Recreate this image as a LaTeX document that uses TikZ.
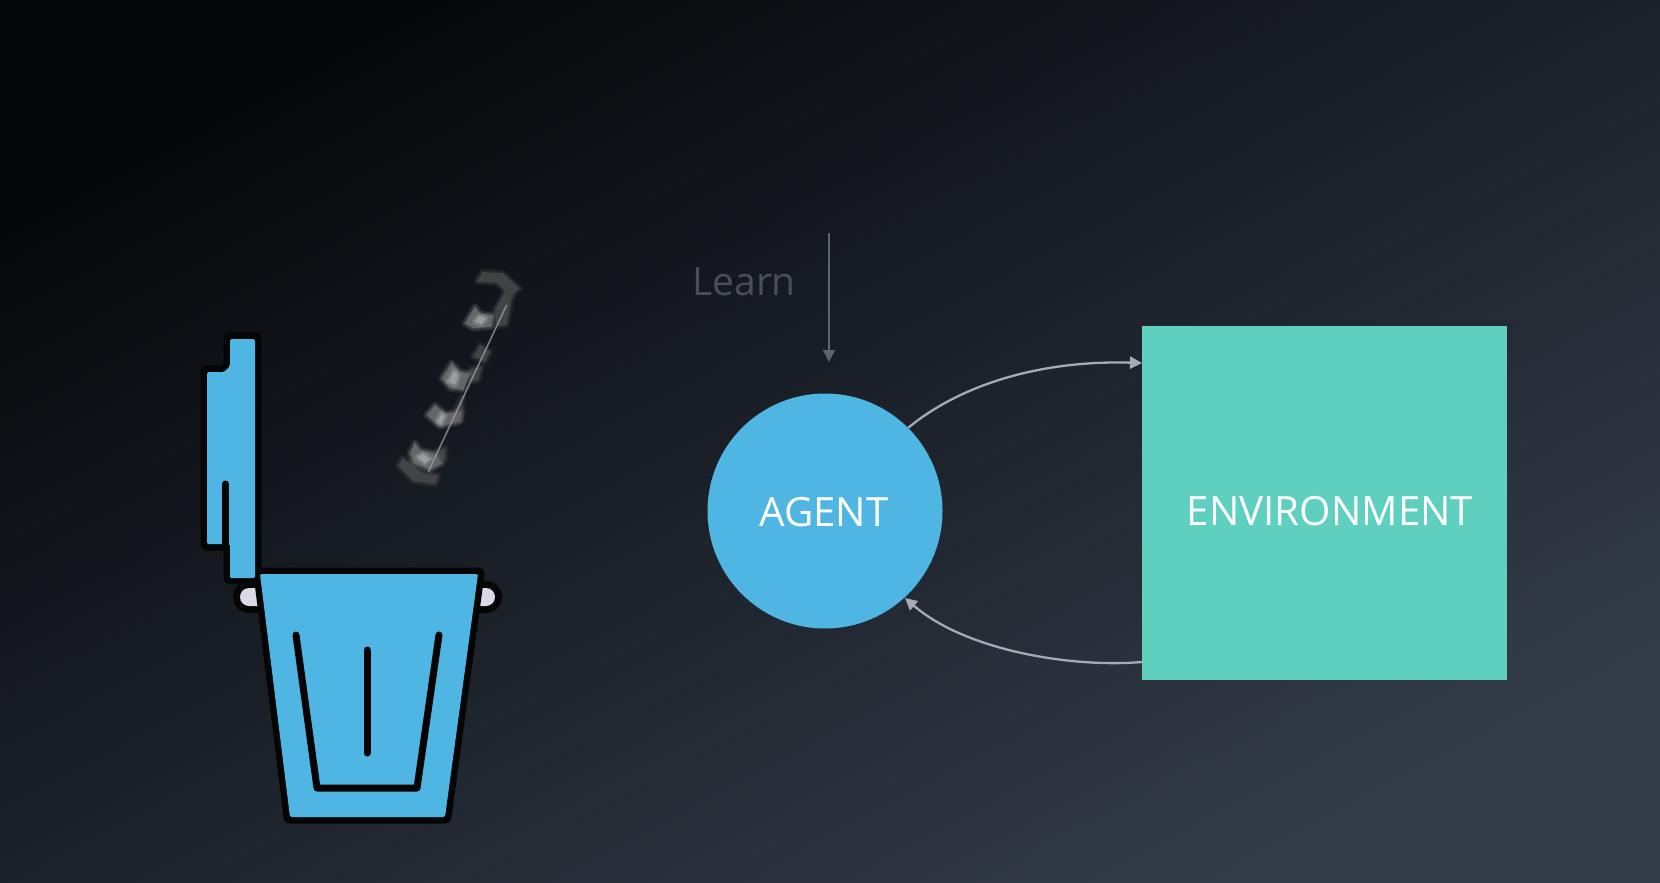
\documentclass[tikz,border=0pt]{standalone}
\usepackage{fontspec}
\setmainfont{Open Sans}
\usetikzlibrary{arrows.meta}
\definecolor{bgA}{RGB}{6,7,10}
\definecolor{bgB}{RGB}{23,28,36}
\definecolor{bgC}{RGB}{50,60,73}
\definecolor{pail}{RGB}{79,182,227}
\definecolor{envc}{RGB}{95,207,192}
\definecolor{ink}{RGB}{5,5,6}
\definecolor{handlec}{RGB}{216,218,230}
\definecolor{arcc}{RGB}{165,170,180}
\definecolor{learnc}{RGB}{74,79,87}
\definecolor{learnarrow}{RGB}{95,100,108}
\tikzset{
  halo/.style={draw=ink,line width=13pt,line join=round},
  solidfill/.style={fill=pail,rounded corners=1.5pt},
  inkline/.style={draw=ink,line width=7pt,line cap=round,line join=round},
  arc line/.style={draw=arcc,line width=2.3pt,-{Triangle[length=12pt,width=12pt]}},
  learn line/.style={draw=learnarrow,line width=1.4pt,-{Triangle[length=12pt,width=12pt]}},
  label text/.style={text=white,font=\fontsize{40.3}{40}\selectfont,inner sep=0pt},
  soft/.style={preaction={draw=#1,draw opacity=.2,line width=7pt,line join=round},
               preaction={draw=#1,draw opacity=.35,line width=4pt,line join=round},
               fill=#1},
  clawdark/.style={soft=white!24!bgA},
  clawmid/.style={soft=white!38!bgA},
  clawlight/.style={soft=white!60!bgA},
}
\newcommand{\bucketpath}{(260,574) -- (478,574) -- (445,817) -- (290,817) -- cycle}
\newcommand{\lidpath}{(230,339) -- (255,339) -- (255,578) -- (230,578) -- (230,544) -- (207,544) -- (207,372) -- (224,372) -- (230,366) -- cycle}
\begin{document}
\begin{tikzpicture}[x=1pt,y=-1pt]
\useasboundingbox (0,0) rectangle (1660,883);
\shade[shading=axis,top color=bgA,middle color=bgB,bottom color=bgC,shading angle=28] (0,0) rectangle (1660,883);
% handles, lid, pail
\draw[draw=ink,line width=14pt,rounded corners=9pt] (240,588) rectangle (495,606);
\fill[handlec,rounded corners=9pt] (240,588) rectangle (495,606);
\path[halo] \lidpath;
\path[halo] \bucketpath;
\path[solidfill] \lidpath;
\path[solidfill] \bucketpath;
\draw[inkline] (296,635) -- (317,788) -- (417,788) -- (439,635);
\draw[inkline] (367,650) -- (367,753);
\draw[inkline] (225.5,484) -- (225.5,546);
% gripper
\begin{scope}[shift={(380,250)},x=0.3333pt,y=-0.3333pt]
\fill[clawdark] (290,95) -- (308,66) -- (368,70) -- (418,115) -- (395,138) -- (350,98) -- cycle;
\fill[clawdark] (55,648) -- (68,625) -- (130,670) -- (175,676) -- (165,703) -- (100,693) -- cycle;
\fill[clawdark] (345,180) -- (375,125) -- (395,140) -- (380,225) -- (350,228) -- cycle;
\fill[clawdark] (280,320) -- (300,285) -- (330,305) -- (315,335) -- cycle;
\fill[clawdark] (272,358) -- (305,350) -- (295,390) -- (272,395) -- cycle;
\fill[clawdark] (225,482) -- (248,440) -- (245,510) -- (225,518) -- cycle;
\fill[clawdark] (170,602) -- (195,595) -- (195,630) -- (170,640) -- cycle;
\fill[clawmid] (90,610) -- (105,578) -- (120,600) -- (165,610) -- (185,640) -- (150,660) -- (100,640) -- cycle;
\fill[clawmid] (140,495) -- (165,465) -- (195,490) -- (245,485) -- (240,515) -- (180,530) -- cycle;
\fill[clawmid] (185,385) -- (215,338) -- (240,365) -- (270,370) -- (250,420) -- (210,415) -- cycle;
\fill[clawmid] (255,220) -- (285,170) -- (300,190) -- (340,195) -- (335,230) -- (280,235) -- cycle;
\fill[clawlight] (205,395) -- (222,362) -- (236,375) -- (226,404) -- cycle;
\fill[clawlight] (172,515) -- (186,490) -- (194,498) -- (184,522) -- cycle;
\fill[clawlight] (112,622) -- (128,612) -- (150,626) -- (135,640) -- cycle;
\fill[clawlight] (285,215) -- (298,198) -- (318,205) -- (305,222) -- cycle;
\draw[draw=white!62!bgA,line width=1.5pt,draw opacity=.75] (145,665) -- (380,165);
\end{scope}
% diagram
\node[circle,fill=pail,minimum size=235pt,inner sep=0pt] (agent) at (825,511) {};
\node[rectangle,fill=envc,minimum width=365pt,minimum height=354pt,inner sep=0pt] (env) at (1324.5,503) {};
\node[label text] (agentlabel) at (824,512) {AGENT};
\node[label text] (envlabel) at (1330,511) {ENVIRONMENT};
\node[text=learnc,font=\fontsize{39}{39}\selectfont,inner sep=0pt,anchor=base west] (learn) at (692,295) {Learn};
\coordinate (envin) at (1142,363);
\coordinate (envout) at (1142,662);
\coordinate (agentin) at (905,598);
\coordinate (learnstart) at (829,233);
\coordinate (learnend) at (829,362);
\draw[arc line] (agent.45) .. controls (960,385) and (1040,360) .. (envin);
\draw[arc line] (envout) .. controls (1070,668) and (965,650) .. (agentin);
\draw[learn line] (learnstart) -- (learnend);
\end{tikzpicture}
\end{document}
